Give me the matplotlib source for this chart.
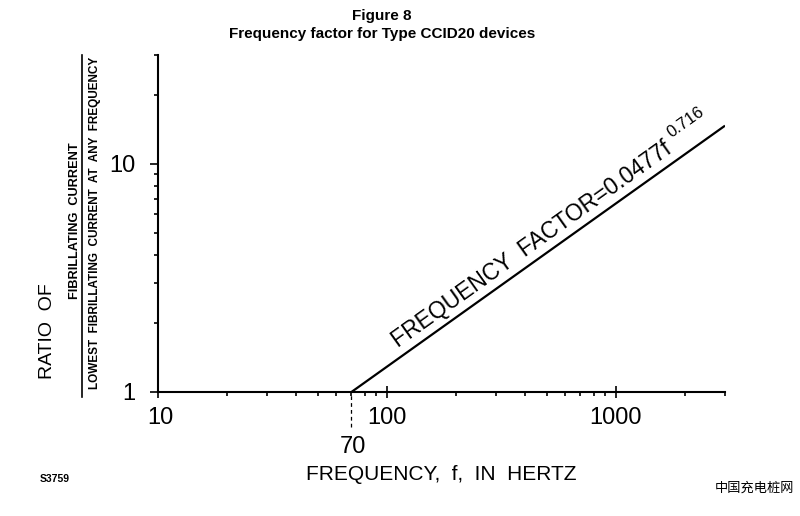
import matplotlib.pyplot as plt
import matplotlib.transforms as mtransforms
import numpy as np

# data
freq = [70, 3000]            # Hz, start and end of the curve
factor = [1.0, 14.7]         # ratio at those frequencies
F_KNEE = 70
XMAJ = [10, 100, 1000]
XMIN = [20, 30, 40, 50, 60, 70, 80, 90, 200, 300, 400, 500, 600, 700, 800, 900, 2000, 3000]
YMAJ = [1, 10]
YMIN = [2, 3, 4, 5, 6, 7, 8, 9, 20, 30]

FONT = 'Liberation Sans'
plt.rcParams['font.family'] = [FONT, 'DejaVu Sans']

fig = plt.figure(figsize=(8, 5.16), dpi=100)
ax = fig.add_axes([158 / 800, 124 / 516, 567 / 800, 337 / 516])

ax.plot(freq, factor, color='black', lw=1.6, solid_capstyle='butt')
ax.axvline(F_KNEE, ymin=-0.105, ymax=0, clip_on=False, color='black', lw=0.9, ls=(0, (3, 2.5)))

ax.set_xscale('log')
ax.set_yscale('log')
ax.set_xlim(10, 3000)
ax.set_ylim(1, 30)

for s in ['top', 'right']:
    ax.spines[s].set_visible(False)
for s in ['left', 'bottom']:
    ax.spines[s].set_linewidth(1.5)

ax.set_xticks(XMAJ)
ax.set_xticks(XMIN, minor=True)
ax.set_xticklabels(['10', '100', '1000'])
ax.set_xticklabels([], minor=True)
ax.set_yticks(YMAJ)
ax.set_yticks(YMIN, minor=True)
ax.set_yticklabels(['1', '10'])
ax.set_yticklabels([], minor=True)

ax.tick_params(axis='x', which='major', direction='inout', length=9, width=1.2, labelsize=17, pad=6)
ax.tick_params(axis='x', which='minor', direction='out', length=3, width=1.2)
ax.tick_params(axis='y', which='major', direction='out', length=6, width=1.2, labelsize=17, pad=10)
ax.tick_params(axis='y', which='minor', direction='out', length=3, width=1.2)
# the "10" label sits a little right of its tick in the original
ax.get_xticklabels()[0].set_horizontalalignment('left')
ax.get_xticklabels()[0].set_x(10)
for lab in ax.get_xticklabels()[:1]:
    lab.set_transform(lab.get_transform() + mtransforms.ScaledTranslation(-8 / 72, 0, fig.dpi_scale_trans))

trans = mtransforms.blended_transform_factory(ax.transData, ax.transAxes)
ax.text(F_KNEE * 1.02, -0.13, '70', transform=trans, ha='center', va='top', fontsize=17)

ax.set_xlabel('FREQUENCY,  f,  IN  HERTZ', fontsize=15, labelpad=26)

# y label as a fraction
fig.text(48 / 800, 1 - 331 / 516, 'RATIO  OF', rotation=90, ha='center', va='center', fontsize=14)
fig.text(75 / 800, 1 - 221 / 516, 'FIBRILLATING  CURRENT', rotation=90, ha='center', va='center',
         fontsize=9.2, fontweight='bold')
fig.add_artist(plt.Line2D([82 / 800, 82 / 800], [1 - 397 / 516, 1 - 55 / 516], color='black', lw=1.2))
fig.text(95 / 800, 1 - 223 / 516, 'LOWEST  FIBRILLATING  CURRENT  AT  ANY  FREQUENCY', rotation=90,
         ha='center', va='center', fontsize=8.5, fontweight='bold')

# equation label along the curve
p0 = ax.transData.transform((freq[0], factor[0]))
p1 = ax.transData.transform((freq[1], factor[1]))
ang = np.degrees(np.arctan2(p1[1] - p0[1], p1[0] - p0[0]))


def on_line(t):
    lx = np.log10(freq)
    ly = np.log10(factor)
    return 10 ** (lx[0] + t * (lx[1] - lx[0])), 10 ** (ly[0] + t * (ly[1] - ly[0]))


ax.annotate('FREQUENCY  FACTOR=0.0477f', xy=on_line(0.11), xytext=(4, 10.6), textcoords='offset points',
            rotation=ang, rotation_mode='anchor', ha='left', va='baseline', fontsize=16.5)
ax.annotate('0.716', xy=on_line(0.85), xytext=(2, 20), textcoords='offset points',
            rotation=ang, rotation_mode='anchor', ha='left', va='baseline', fontsize=12)

fig.text(382 / 800, 1 - 16 / 516, 'Figure 8', ha='center', va='center', fontsize=11, fontweight='bold')
fig.text(382 / 800, 1 - 34 / 516, 'Frequency factor for Type CCID20 devices', ha='center', va='center',
         fontsize=11, fontweight='bold')
fig.text(40 / 800, 1 - 479 / 516, 'S3759', ha='left', va='center', fontsize=7.5, fontweight='bold')
fig.text(715 / 800, 1 - 488 / 516, '中国充电桩网', ha='left', va='center', fontsize=9.5,
         family=['Noto Sans CJK SC', 'DejaVu Sans'])

fig.savefig('out.png', dpi=100)
